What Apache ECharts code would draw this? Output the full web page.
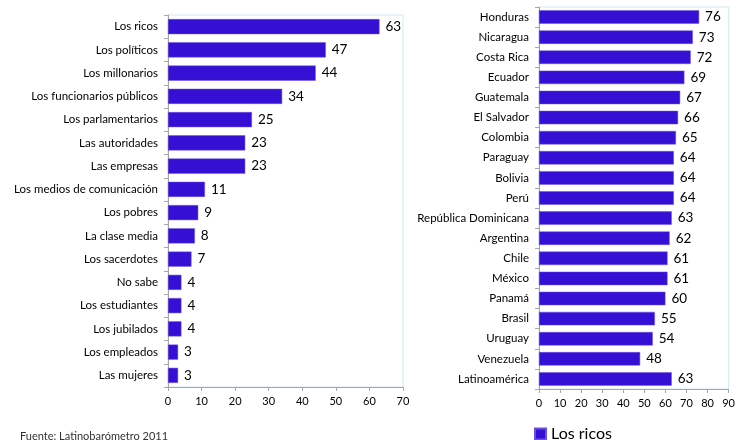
<!DOCTYPE html>
<html>
<head>
<meta charset="utf-8">
<script src="https://cdn.jsdelivr.net/npm/echarts@6/dist/echarts.min.js"></script>
<style>html,body{margin:0;padding:0;background:#fff;}#c{width:738px;height:440px;}</style>
</head>
<body>
<div id="c"></div>
<script>
const groupCats = ["Los ricos","Los políticos","Los millonarios","Los funcionarios públicos","Los parlamentarios","Las autoridades","Las empresas","Los medios de comunicación","Los pobres","La clase media","Los sacerdotes","No sabe","Los estudiantes","Los jubilados","Los empleados","Las mujeres"];
const groupVals = [63,47,44,34,25,23,23,11,9,8,7,4,4,4,3,3];
const countryCats = ["Honduras","Nicaragua","Costa Rica","Ecuador","Guatemala","El Salvador","Colombia","Paraguay","Bolivia","Perú","República Dominicana","Argentina","Chile","México","Panamá","Brasil","Uruguay","Venezuela","Latinoamérica"];
const countryVals = [76,73,72,69,67,66,65,64,64,64,63,62,61,61,60,55,54,48,63];
const leftTicks = [0,70,10];
const rightTicks = [0,90,10];
const seriesName = "Los ricos";
const sourceText = "Fuente: Latinobarómetro 2011";

const FONT = "Lato";
const BAR = "#3510d4";
const chart = echarts.init(document.getElementById('c'));
function xAx(idx, t){
  return {type:'value', gridIndex:idx, min:t[0], max:t[1], interval:t[2],
    axisLine:{show:true, lineStyle:{color:'#a6a6a6'}},
    axisTick:{show:true, length:4, lineStyle:{color:'#a6a6a6'}},
    splitLine:{show:false},
    axisLabel:{color:'#000', fontFamily:FONT, fontSize:11, margin:9}};
}
function yAx(idx, cats){
  return {type:'category', gridIndex:idx, data:cats, inverse:true,
    axisLine:{show:true, lineStyle:{color:'#a6a6a6'}},
    axisTick:{show:true, length:4, alignWithLabel:false, lineStyle:{color:'#a6a6a6'}},
    axisLabel:{color:'#000', fontFamily:FONT, fontSize:11.5, margin:10}};
}
const lbl = {show:true, position:'right', distance:6, color:'#000', fontFamily:FONT, fontSize:13.5};
chart.setOption({
  animation:false,
  grid:[
    {left:168, right:335, top:15, height:372, show:true, borderColor:'#d3e9f0', borderWidth:1, backgroundColor:'transparent'},
    {left:539, right:8, top:7, height:382, show:true, borderColor:'#d3e9f0', borderWidth:1, backgroundColor:'transparent'}
  ],
  xAxis:[xAx(0,leftTicks), xAx(1,rightTicks)],
  yAxis:[yAx(0,groupCats), yAx(1,countryCats)],
  legend:{data:[seriesName], left:529, top:421, itemWidth:11, itemHeight:11, itemGap:6,
    textStyle:{fontFamily:FONT, fontSize:16, color:'#000'}, icon:'rect'},
  graphic:[{type:'text', left:20, top:431, style:{text:sourceText, fontFamily:FONT, fontSize:11, fill:'#333'}}],
  series:[
    {type:'bar', name:seriesName, xAxisIndex:0, yAxisIndex:0, data:groupVals, barCategoryGap:'35%',
      itemStyle:{color:BAR, borderColor:'#6b50e0', borderWidth:0.5}, label:lbl},
    {type:'bar', name:seriesName, xAxisIndex:1, yAxisIndex:1, data:countryVals, barCategoryGap:'33%',
      itemStyle:{color:BAR, borderColor:'#6b50e0', borderWidth:0.5}, label:lbl}
  ]
});
</script>
</body>
</html>
